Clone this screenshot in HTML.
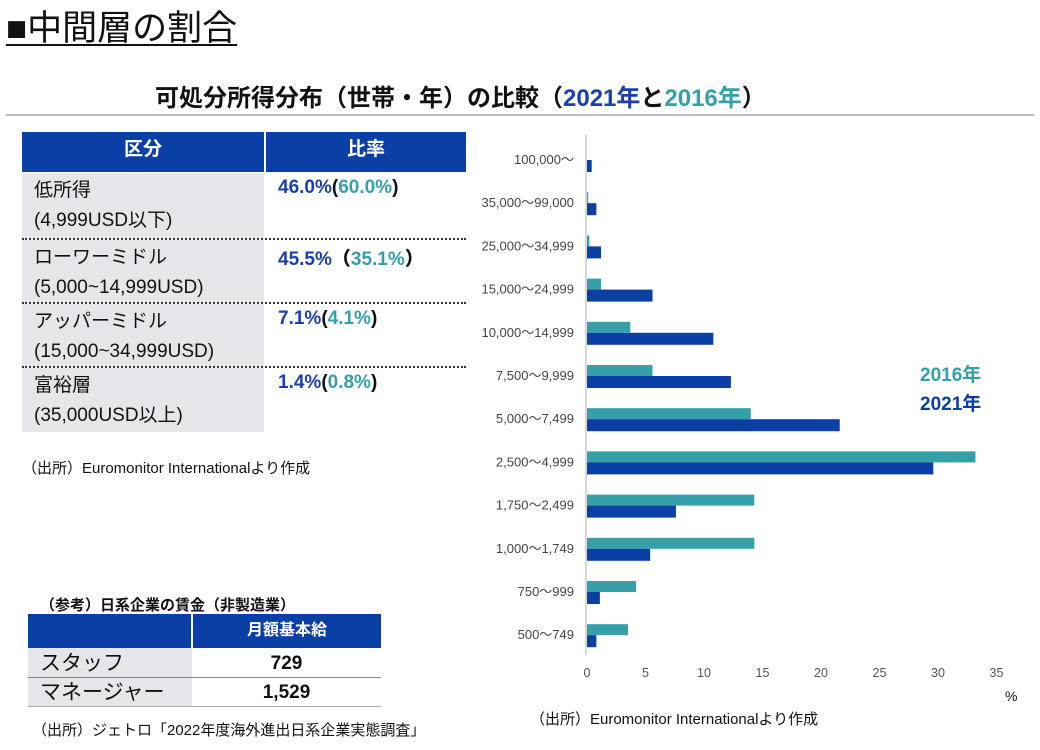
<!DOCTYPE html>
<html><head><meta charset="utf-8">
<style>
body{margin:0;width:1040px;height:750px;background:#fff;position:relative;overflow:hidden;font-family:"Liberation Sans","Noto Sans CJK JP",sans-serif;color:#111}
.a{position:absolute;white-space:nowrap}
.cell{position:absolute;box-sizing:border-box}
.hd{background:#0a3fa6;color:#fff;font-weight:bold;font-size:19px;text-align:center}
.gr{background:#e4e6ea}
.t1{font-size:19px;line-height:30px;padding-left:12px;padding-top:3px}
.v{font-size:19px;font-weight:bold;color:#1a3fae;padding-left:12px;padding-top:4px}
.v span{color:#35a0a8}
.v b{color:#111}
.dot{position:absolute;left:22px;width:444px;border-top:2px dotted #333}
</style></head><body>
<div class="a" style="left:6px;top:0px;font-size:35px;text-decoration:underline;text-underline-offset:4px;text-decoration-thickness:2px">■中間層の割合</div>
<div class="a" style="left:155px;top:78px;font-size:24px;font-weight:bold">可処分所得分布（世帯・年）の比較（<span style="color:#1a3fae">2021年</span>と<span style="color:#35a0a8">2016年</span>）</div>
<div class="a" style="left:6px;top:114px;width:1028px;height:2px;background:#b8bccb"></div>

<div>
<div class="cell hd" style="left:22px;top:132px;width:242px;height:40px;line-height:36px">区分</div>
<div class="cell hd" style="left:266px;top:132px;width:200px;height:40px;line-height:36px">比率</div>
<div class="cell gr t1" style="left:22px;top:173px;width:242px;height:66px">低所得<br>(4,999USD以下)</div>
<div class="cell v" style="left:266px;top:173px">46.0%<b>(</b><span>60.0%</span><b>)</b></div>
<div class="dot" style="top:238px"></div>
<div class="cell gr t1" style="left:22px;top:240px;width:242px;height:63px">ローワーミドル<br>(5,000~14,999USD)</div>
<div class="cell v" style="left:266px;top:240px">45.5%<b>（</b><span>35.1%</span><b>）</b></div>
<div class="dot" style="top:302px"></div>
<div class="cell gr t1" style="left:22px;top:304px;width:242px;height:63px">アッパーミドル<br>(15,000~34,999USD)</div>
<div class="cell v" style="left:266px;top:304px">7.1%<b>(</b><span>4.1%</span><b>)</b></div>
<div class="dot" style="top:366px"></div>
<div class="cell gr t1" style="left:22px;top:368px;width:242px;height:64px">富裕層<br>(35,000USD以上)</div>
<div class="cell v" style="left:266px;top:368px">1.4%<b>(</b><span>0.8%</span><b>)</b></div>
</div>
<div class="a" style="left:22px;top:457px;font-size:15px">（出所）Euromonitor Internationalより作成</div>

<div class="a" style="left:40px;top:594px;font-size:15px;font-weight:bold">（参考）日系企業の賃金（非製造業）</div>
<div>
<div class="cell" style="left:28px;top:614px;width:163px;height:34px;background:#0a3fa6"></div>
<div class="cell hd" style="left:193px;top:614px;width:188px;height:34px;line-height:34px;font-size:16px">月額基本給</div>
<div class="cell gr" style="left:28px;top:648px;width:164px;height:30px;font-size:21px;line-height:32px;padding-left:12px">スタッフ</div>
<div class="cell" style="left:192px;top:648px;width:189px;height:30px;font-size:19px;font-weight:bold;text-align:center;line-height:32px">729</div>
<div class="cell" style="left:28px;top:677px;width:353px;border-top:1px solid #888"></div>
<div class="cell gr" style="left:28px;top:678px;width:164px;height:28px;font-size:21px;line-height:30px;padding-left:12px">マネージャー</div>
<div class="cell" style="left:192px;top:678px;width:189px;height:28px;font-size:19px;font-weight:bold;text-align:center;line-height:30px">1,529</div>
<div class="cell" style="left:28px;top:706px;width:353px;border-top:1px solid #aaa"></div>
</div>
<div class="a" style="left:32px;top:719px;font-size:15px">（出所）ジェトロ「2022年度海外進出日系企業実態調査」</div>

<svg id="chart" width="1040" height="750" style="position:absolute;left:0;top:0" font-family="Liberation Sans, Noto Sans CJK JP, sans-serif"></svg>
<div class="a" style="left:920px;top:360px;font-size:19px;font-weight:bold;color:#35a0a8">2016年</div>
<div class="a" style="left:920px;top:389px;font-size:19px;font-weight:bold;color:#0a3fa6">2021年</div>
<div class="a" style="left:1005px;top:688px;font-size:14px">%</div>
<div class="a" style="left:530px;top:708px;font-size:15px">（出所）Euromonitor Internationalより作成</div>

<script>
const categories=["100,000～","35,000～99,000","25,000～34,999","15,000～24,999","10,000～14,999","7,500～9,999","5,000～7,499","2,500～4,999","1,750～2,499","1,000～1,749","750～999","500～749"];
const values2016=[0,0.1,0.2,1.2,3.7,5.6,14.0,33.2,14.3,14.3,4.2,3.5];
const values2021=[0.4,0.8,1.2,5.6,10.8,12.3,21.6,29.6,7.6,5.4,1.1,0.8];
const xTicks=[0,5,10,15,20,25,30,35];
const ns="http://www.w3.org/2000/svg";
const svg=document.getElementById('chart');
const x0=587,pxPer=11.7,y0=158,step=43.2;
const xs=v=>x0+v*pxPer;
const ys=i=>y0+i*step;
function mk(t,a){const e=document.createElementNS(ns,t);for(const k in a)e.setAttribute(k,a[k]);svg.appendChild(e);return e;}
const ax=mk('line',{x1:x0-1,x2:x0-1,y1:135,y2:655,stroke:'#d8d8d8','stroke-width':2});


categories.forEach((c,i)=>{
  const cy=ys(i)+2;
  const t=mk('text',{x:574,y:cy+4,'text-anchor':'end','font-size':13,fill:'#444'});
  t.textContent=c;
  
  
  const b1=mk('rect',{x:x0,y:cy-11,width:Math.max(0,xs(values2016[i])-x0),height:11,fill:'#35a0a8'});
  
  
  const b2=mk('rect',{x:x0,y:cy,width:Math.max(0,xs(values2021[i])-x0),height:12,fill:'#0a3fa6'});
  
  
});
xTicks.forEach(v=>{
  const t=mk('text',{x:xs(v),y:677,'text-anchor':'middle','font-size':12.5,fill:'#555'});
  t.textContent=v;
  
  
});
</script>
</body></html>
